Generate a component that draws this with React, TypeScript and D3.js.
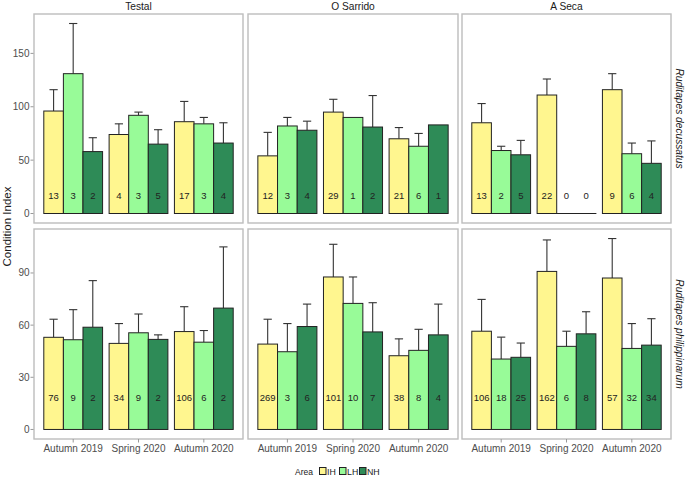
import React, { useEffect, useRef } from 'react';
import * as d3 from 'd3';

const sites = ['Testal', 'O Sarrido', 'A Seca'];
const seasons = ['Autumn 2019', 'Spring 2020', 'Autumn 2020'];
const areas = ['IH', 'LH', 'NH'];
const species = ['Ruditapes decussatus', 'Ruditapes philippinarum'];
const areaColors = ['#fff68f', '#98fb98', '#2e8b57'];

// per site: 9 values, season by season, IH / LH / NH
const meanDecussatus = [
  [96, 131, 58, 74, 92, 65, 86, 84, 66],
  [54, 82, 78, 95, 90, 81, 70, 63, 83],
  [85, 59, 55, 111, 0, 0, 116, 56, 47],
];
const upperDecussatus = [
  [116, 178, 71, 84, 95, 78.5, 105, 90, 85],
  [76, 90, 86.5, 107, null, 110.5, 80.5, 75, null],
  [103, 63, 68.5, 126, null, null, 131, 66, 68],
];
const nDecussatus = [
  [13, 3, 2, 4, 3, 5, 17, 3, 4],
  [12, 3, 4, 29, 1, 2, 21, 6, 1],
  [13, 2, 5, 22, 0, 0, 9, 6, 4],
];

const meanPhilippinarum = [
  [53, 51.6, 58.8, 49.5, 55.6, 51.8, 56.3, 50.2, 69.8],
  [49.1, 44.7, 59.2, 87.7, 72.5, 56.1, 42.4, 45.5, 54.4],
  [56.5, 40.5, 41.5, 90.9, 47.8, 55, 87.1, 46.6, 48.5],
];
const upperPhilippinarum = [
  [63.4, 68.9, 85.6, 60.9, 66.4, 54.4, 70.6, 56.9, 105],
  [63.4, 60.9, 72.1, 106.5, 87.7, 72.9, 52.1, 57.6, 72.1],
  [74.8, 53.1, 49.7, 109, 56.5, 67.7, 109.8, 60.9, 63.7],
];
const nPhilippinarum = [
  [76, 9, 2, 34, 9, 2, 106, 6, 2],
  [269, 3, 6, 101, 10, 7, 38, 8, 4],
  [106, 18, 25, 162, 6, 8, 57, 32, 34],
];

const yTicks = [
  [0, 50, 100, 150],
  [0, 30, 60, 90],
];
const labelLevel = [17, 18];

const App = () => {
  const svgRef = useRef<SVGSVGElement>(null);

  useEffect(() => {
    const W = 685;
    const H = 478;
    const font = 'Liberation Sans, Arial, sans-serif';
    const panelX = [[34, 243], [248, 458], [462, 671]];
    const panelY = [[14, 223], [229, 439]];
    const means = [meanDecussatus, meanPhilippinarum];
    const uppers = [upperDecussatus, upperPhilippinarum];
    const counts = [nDecussatus, nPhilippinarum];

    const svg = d3.select(svgRef.current)
      .attr('width', W)
      .attr('height', H);
    svg.selectAll('*').remove();
    svg.append('rect').attr('width', W).attr('height', H).attr('fill', 'white');

    species.forEach((sp, r) => {
      const maxV = d3.max(uppers[r].flat().concat(means[r].flat()).map(v => v ?? 0)) as number;
      const pad = maxV * 0.05;
      const y = d3.scaleLinear()
        .domain([-pad, maxV + pad])
        .range([panelY[r][1], panelY[r][0]]);

      // y axis on the left panel only
      const yAxis = svg.append('g').attr('font-family', font);
      yTicks[r].forEach(t => {
        yAxis.append('line')
          .attr('x1', panelX[0][0] - 3.5).attr('x2', panelX[0][0])
          .attr('y1', y(t)).attr('y2', y(t))
          .attr('stroke', '#999').attr('stroke-width', 1);
        yAxis.append('text')
          .attr('x', panelX[0][0] - 4.5).attr('y', y(t))
          .attr('dy', '0.35em')
          .attr('text-anchor', 'end')
          .attr('font-size', 10)
          .attr('fill', '#4d4d4d')
          .text(t);
      });

      sites.forEach((site, c) => {
        const [x0, x1] = panelX[c];
        const x = d3.scalePoint<string>().domain(seasons).range([x0, x1]).padding(0.6);
        const step = x.step();
        const xa = d3.scaleBand<string>().domain(areas).range([-0.45 * step, 0.45 * step]);
        const g = svg.append('g');

        seasons.forEach((s, si) => {
          areas.forEach((a, ai) => {
            const k = si * 3 + ai;
            const m = means[r][c][k];
            const up = uppers[r][c][k];
            const bx = (x(s) as number) + (xa(a) as number);
            const bw = xa.bandwidth();
            const cx = bx + bw / 2;
            if (up != null) {
              g.append('line')
                .attr('x1', cx).attr('x2', cx)
                .attr('y1', y(m)).attr('y2', y(up))
                .attr('stroke', '#333').attr('stroke-width', 1.1);
              g.append('line')
                .attr('x1', cx - bw * 0.21).attr('x2', cx + bw * 0.21)
                .attr('y1', y(up)).attr('y2', y(up))
                .attr('stroke', '#333').attr('stroke-width', 1.1);
            }
            g.append('rect')
              .attr('x', bx).attr('width', bw)
              .attr('y', y(m))
              .attr('height', Math.max(y(0) - y(m), 0.001))
              .attr('fill', areaColors[ai])
              .attr('stroke', '#222')
              .attr('stroke-width', 1);
            g.append('text')
              .attr('x', cx).attr('y', y(labelLevel[r]))
              .attr('dy', '0.35em')
              .attr('text-anchor', 'middle')
              .attr('font-family', font)
              .attr('font-size', 9.5)
              .attr('fill', '#222')
              .text(counts[r][c][k]);
          });
        });

        g.append('rect')
          .attr('x', x0).attr('y', panelY[r][0])
          .attr('width', x1 - x0).attr('height', panelY[r][1] - panelY[r][0])
          .attr('fill', 'none')
          .attr('stroke', '#bdbdbd')
          .attr('stroke-width', 1.4);

        if (r === 0) {
          svg.append('text')
            .attr('x', (x0 + x1) / 2).attr('y', 9.5)
            .attr('text-anchor', 'middle')
            .attr('font-family', font).attr('font-size', 10.2)
            .attr('fill', '#1a1a1a')
            .text(site);
        }
        if (r === 1) {
          seasons.forEach(s => {
            svg.append('line')
              .attr('x1', x(s) as number).attr('x2', x(s) as number)
              .attr('y1', panelY[1][1]).attr('y2', panelY[1][1] + 3.5)
              .attr('stroke', '#999');
            svg.append('text')
              .attr('x', x(s) as number).attr('y', panelY[1][1] + 12.5)
              .attr('text-anchor', 'middle')
              .attr('font-family', font).attr('font-size', 10)
              .attr('fill', '#4d4d4d')
              .text(s);
          });
        }
      });

      const cy = (panelY[r][0] + panelY[r][1]) / 2;
      svg.append('text')
        .attr('transform', `translate(675.5,${cy}) rotate(90)`)
        .attr('text-anchor', 'middle')
        .attr('font-family', font).attr('font-size', 10.2)
        .attr('font-style', 'italic')
        .attr('fill', '#1a1a1a')
        .text(sp);
    });

    svg.append('text')
      .attr('transform', `translate(10.5,${(panelY[0][0] + panelY[1][1]) / 2}) rotate(-90)`)
      .attr('text-anchor', 'middle')
      .attr('font-family', font).attr('font-size', 11.5)
      .attr('fill', '#1a1a1a')
      .text('Condition Index');

    // legend
    const lg = svg.append('g').attr('font-family', font).attr('font-size', 8.8);
    lg.append('text').attr('x', 295).attr('y', 474.5).attr('font-size', 8.5).attr('fill', '#1a1a1a').text('Area');
    const keyX = [319.5, 339.5, 359.5];
    areas.forEach((a, i) => {
      lg.append('rect')
        .attr('x', keyX[i]).attr('y', 467.5)
        .attr('width', 6.5).attr('height', 7)
        .attr('fill', areaColors[i])
        .attr('stroke', '#222').attr('stroke-width', 1);
      lg.append('text')
        .attr('x', keyX[i] + 7.5).attr('y', 475)
        .attr('fill', '#1a1a1a')
        .text(a);
    });
  }, []);

  return (
    <svg ref={svgRef} style={{ position: 'absolute', left: 0, top: 0 }}></svg>
  );
};

export default App;
